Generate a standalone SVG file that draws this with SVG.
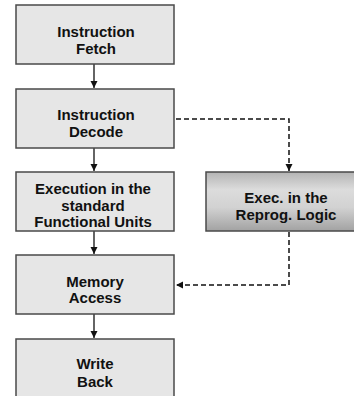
<svg xmlns="http://www.w3.org/2000/svg" width="354" height="396" viewBox="0 0 354 396">
<defs>
<style>
.box{fill:#e6e6e6;stroke:#4a4a4a;stroke-width:1.5}
.rbox{fill:url(#metal);stroke:#4a4a4a;stroke-width:1.5}
.t{font-family:"Liberation Sans",Arial,sans-serif;font-weight:bold;font-size:15px;fill:#111;text-anchor:middle}
.solid{stroke:#111;stroke-width:1.3;fill:none}
.dash{stroke:#111;stroke-width:1.5;fill:none;stroke-dasharray:5 3}
</style>
<linearGradient id="metal" x1="0" y1="0" x2="0" y2="1">
<stop offset="0" stop-color="#b4b4b4"/>
<stop offset="0.3" stop-color="#dcdcdc"/>
<stop offset="0.6" stop-color="#d2d2d2"/>
<stop offset="1" stop-color="#a2a2a2"/>
</linearGradient>
<marker id="ah" markerWidth="8" markerHeight="8" refX="7" refY="4" orient="auto" markerUnits="userSpaceOnUse">
<path d="M0,0.5 L7,4 L0,7.5 Z" fill="#111"/>
</marker>
</defs>
<g id="connectors">
<line class="solid" x1="94" y1="64" x2="94" y2="88" marker-end="url(#ah)"/>
<line class="solid" x1="94" y1="148" x2="94" y2="171" marker-end="url(#ah)"/>
<line class="solid" x1="94" y1="231" x2="94" y2="254" marker-end="url(#ah)"/>
<line class="solid" x1="94" y1="314" x2="94" y2="338" marker-end="url(#ah)"/>
<polyline class="dash" points="176,119 289,119 289,171" marker-end="url(#ah)"/>
<polyline class="dash" points="289,232 289,285 176,285" marker-end="url(#ah)"/>
</g>
<g id="fetch">
<rect class="box" x="16" y="5" width="158" height="59"/>
<text class="t" x="96" y="37">Instruction</text>
<text class="t" x="96" y="54">Fetch</text>
</g>
<g id="decode">
<rect class="box" x="16" y="89" width="158" height="59"/>
<text class="t" x="96" y="120">Instruction</text>
<text class="t" x="96" y="137">Decode</text>
</g>
<g id="exec">
<rect class="box" x="16" y="172" width="158" height="59"/>
<text class="t" x="93" y="194">Execution in the</text>
<text class="t" x="93" y="211">standard</text>
<text class="t" x="93" y="227">Functional Units</text>
</g>
<g id="memory">
<rect class="box" x="16" y="255" width="158" height="59"/>
<text class="t" x="95" y="287">Memory</text>
<text class="t" x="95" y="303">Access</text>
</g>
<g id="writeback">
<rect class="box" x="16" y="339" width="158" height="70"/>
<text class="t" x="95" y="369">Write</text>
<text class="t" x="95" y="387">Back</text>
</g>
<g id="reprog">
<rect class="rbox" x="206" y="172" width="160" height="59"/>
<text class="t" x="286" y="203">Exec. in the</text>
<text class="t" x="286" y="220">Reprog. Logic</text>
</g>
</svg>
